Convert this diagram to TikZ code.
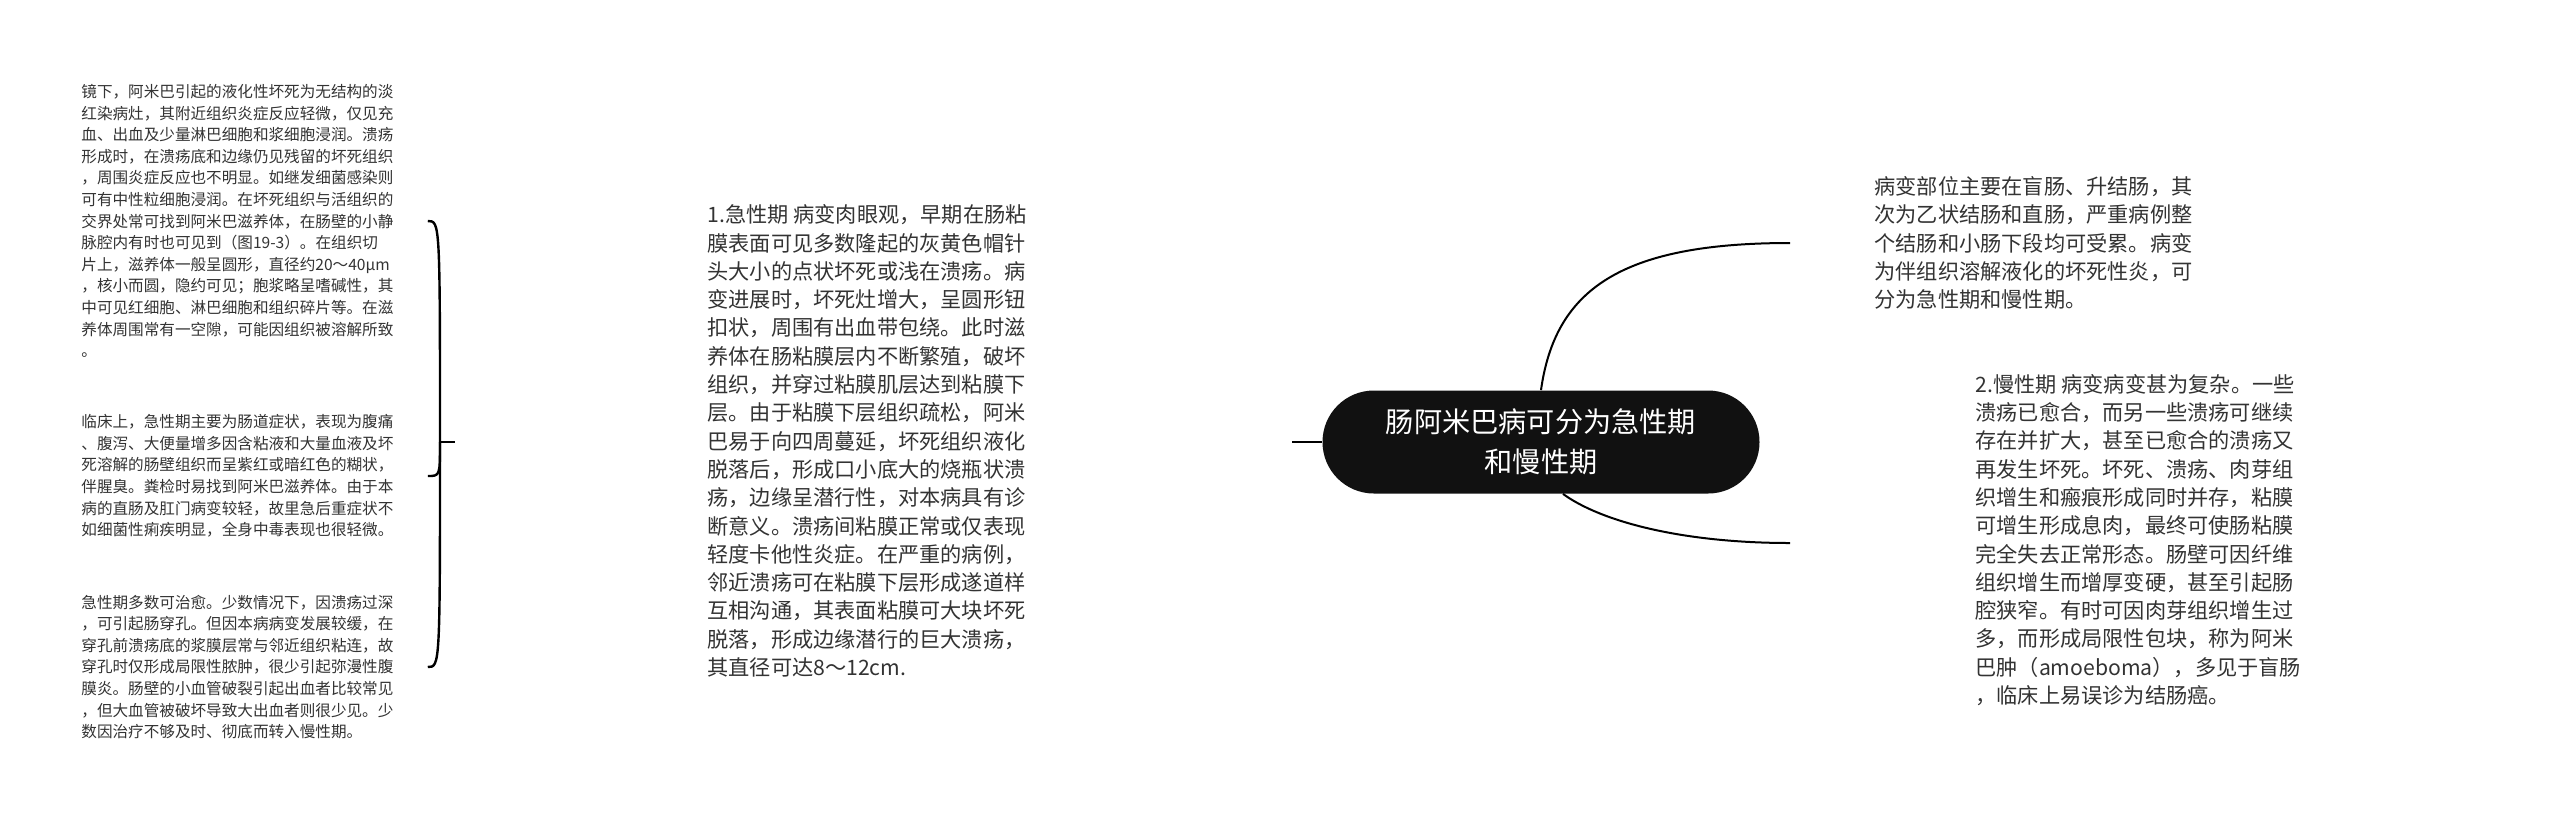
\documentclass[tikz,border=0pt]{standalone}
\usepackage{fontspec}
\setmainfont{Noto Sans CJK SC}
\definecolor{textgray}{HTML}{333333}
\definecolor{rootblack}{HTML}{111111}
\tikzset{
  leaf/.style={anchor=west, inner sep=0pt, align=left, text=textgray},
  smallleaf/.style={leaf, text width=173pt, font=\fontsize{7.8}{10.8}\selectfont},
  bigleaf/.style={leaf, font=\fontsize{10.6}{14.15}\selectfont},
  rootbox/.style={fill=rootblack, text=white, rounded corners=25.7pt, minimum width=218.5pt,
    minimum height=51.5pt, align=center, font=\fontsize{14.1}{20}\selectfont},
  link/.style={line width=1pt, black},
  bracelink/.style={line width=1.2pt, black},
}

\begin{document}
\begin{tikzpicture}[x=0.5pt,y=-0.5pt] % <- one unit is one pixel
   % Page
   \fill[white] (0,0) rectangle (2560,821);
   \useasboundingbox (0,0) rectangle (2560,821);
   % Central topic
   \node[rootbox] (root) at (1541,442) {肠阿米巴病可分为急性期\\和慢性期};
   % Right side
   \node[bigleaf] (site) at (1874,243) {病变部位主要在盲肠、升结肠，其\\
次为乙状结肠和直肠，严重病例整\\
个结肠和小肠下段均可受累。病变\\
为伴组织溶解液化的坏死性炎，可\\
分为急性期和慢性期。};
   \node[bigleaf] (chronic) at (1975,540) {2.慢性期 病变病变甚为复杂。一些\\
溃疡已愈合，而另一些溃疡可继续\\
存在并扩大，甚至已愈合的溃疡又\\
再发生坏死。坏死、溃疡、肉芽组\\
织增生和瘢痕形成同时并存，粘膜\\
可增生形成息肉，最终可使肠粘膜\\
完全失去正常形态。肠壁可因纤维\\
组织增生而增厚变硬，甚至引起肠\\
腔狭窄。有时可因肉芽组织增生过\\
多，而形成局限性包块，称为阿米\\
巴肿（amoeboma），多见于盲肠\\
，临床上易误诊为结肠癌。};
   \coordinate (siteend) at (1790,243);
   \coordinate (chronicend) at (1790,543);
   \draw[link] (root.north) .. controls +(14,-100) and +(-170,0) .. (siteend);
   \draw[link] ([xshift=11pt]root.south) .. controls +(37,27) and +(-110,0) .. (chronicend);
   % Left side
   \node[bigleaf] (acute) at (707,441) {1.急性期 病变肉眼观，早期在肠粘\\
膜表面可见多数隆起的灰黄色帽针\\
头大小的点状坏死或浅在溃疡。病\\
变进展时，坏死灶增大，呈圆形钮\\
扣状，周围有出血带包绕。此时滋\\
养体在肠粘膜层内不断繁殖，破坏\\
组织，并穿过粘膜肌层达到粘膜下\\
层。由于粘膜下层组织疏松，阿米\\
巴易于向四周蔓延，坏死组织液化\\
脱落后，形成口小底大的烧瓶状溃\\
疡，边缘呈潜行性，对本病具有诊\\
断意义。溃疡间粘膜正常或仅表现\\
轻度卡他性炎症。在严重的病例，\\
邻近溃疡可在粘膜下层形成遂道样\\
互相沟通，其表面粘膜可大块坏死\\
脱落，形成边缘潜行的巨大溃疡，\\
其直径可达8～12cm.};
   \coordinate (stub) at (1292,442);
   \draw[link] (root.west) -- (stub);
   % Details of the acute stage
   \node[smallleaf] (micro) at (81,221) {镜下，阿米巴引起的液化性坏死为无结构的淡\\
红染病灶，其附近组织炎症反应轻微，仅见充\\
血、出血及少量淋巴细胞和浆细胞浸润。溃疡\\
形成时，在溃疡底和边缘仍见残留的坏死组织\\
，周围炎症反应也不明显。如继发细菌感染则\\
可有中性粒细胞浸润。在坏死组织与活组织的\\
交界处常可找到阿米巴滋养体，在肠壁的小静\\
脉腔内有时也可见到（图19-3）。在组织切\\
片上，滋养体一般呈圆形，直径约20～40μm\\
，核小而圆，隐约可见；胞浆略呈嗜碱性，其\\
中可见红细胞、淋巴细胞和组织碎片等。在滋\\
养体周围常有一空隙，可能因组织被溶解所致\\
。};
   \node[smallleaf] (clinic) at (81,476) {临床上，急性期主要为肠道症状，表现为腹痛\\
、腹泻、大便量增多因含粘液和大量血液及坏\\
死溶解的肠壁组织而呈紫红或暗红色的糊状，\\
伴腥臭。粪检时易找到阿米巴滋养体。由于本\\
病的直肠及肛门病变较轻，故里急后重症状不\\
如细菌性痢疾明显，全身中毒表现也很轻微。};
   \node[smallleaf] (outcome) at (81,667) {急性期多数可治愈。少数情况下，因溃疡过深\\
，可引起肠穿孔。但因本病病变发展较缓，在\\
穿孔前溃疡底的浆膜层常与邻近组织粘连，故\\
穿孔时仅形成局限性脓肿，很少引起弥漫性腹\\
膜炎。肠壁的小血管破裂引起出血者比较常见\\
，但大血管被破坏导致大出血者则很少见。少\\
数因治疗不够及时、彻底而转入慢性期。};
   \coordinate (hub) at (440,442);
   \coordinate (tick) at (455,442);
   \draw[bracelink] (hub) -- (tick);
   \draw[bracelink] (hub) .. controls (hub |- micro.east) .. (micro.east);
   \draw[bracelink] (hub) .. controls (hub |- clinic.east) .. (clinic.east);
   \draw[bracelink] (hub) .. controls (hub |- outcome.east) .. (outcome.east);
\end{tikzpicture}
\end{document}
